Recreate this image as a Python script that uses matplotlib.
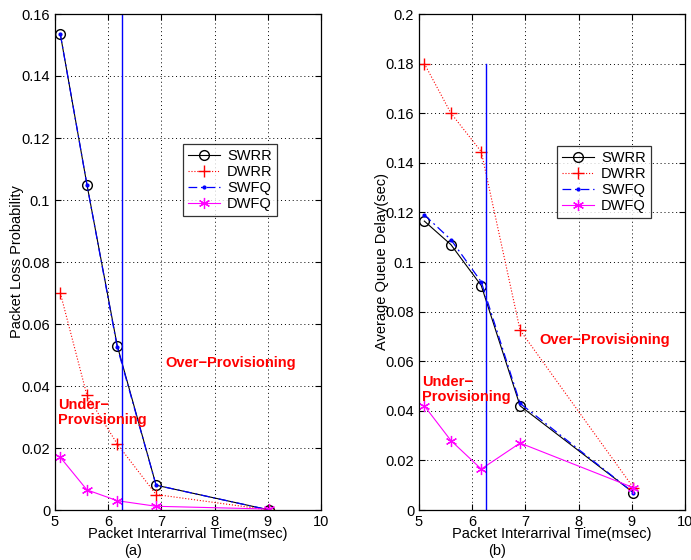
import matplotlib
matplotlib.use("Agg")
import matplotlib.pyplot as plt

plt.rcParams['font.family'] = ['Liberation Sans', 'DejaVu Sans']

x = [5.1, 5.6, 6.17, 6.9, 9.03]

# (a) Packet loss probability
loss_swrr = [0.1535, 0.105, 0.053, 0.008, 0.0]
loss_dwrr = [0.070, 0.037, 0.0213, 0.005, 0.0]
loss_swfq = [0.1535, 0.105, 0.0525, 0.008, 0.0]
loss_dwfq = [0.017, 0.0065, 0.003, 0.0012, 0.0003]

# (b) Average queue delay
delay_swrr = [0.1165, 0.107, 0.0905, 0.042, 0.007]
delay_dwrr = [0.180, 0.160, 0.1445, 0.0725, 0.009]
delay_swfq = [0.119, 0.109, 0.092, 0.043, 0.007]
delay_dwfq = [0.042, 0.028, 0.0165, 0.027, 0.009]

boundary_a = 6.26
boundary_b = 6.25

fig = plt.figure(figsize=(6.91, 5.6), dpi=100)
ax1 = fig.add_axes([55/691, 50/560, 266/691, 496/560])
ax2 = fig.add_axes([419/691, 50/560, 266/691, 496/560])

def draw(ax, sw, dw, sf, df, xb, ytop, yticks, ylabel, vline_top, ylab_x):
    ax.plot(x, sw, '-', color='black', marker='o', mfc='none', mec='black', ms=7, lw=0.8, label='SWRR')
    ax.plot(x, dw, ':', color='red', marker='+', ms=8, lw=0.8, label='DWRR')
    ax.plot(x, sf, color='blue', linestyle=(0, (7, 3, 1.5, 3)), marker='.', ms=4, lw=0.9, label='SWFQ')
    ax.plot(x, df, '-', color='magenta', marker=(6, 2, 0), ms=8, mew=0.9, lw=0.8, label='DWFQ')
    ax.plot([xb, xb], [0, vline_top], '-', color='blue', lw=1.0)
    ax.set_xlim(5, 10)
    ax.set_ylim(0, ytop)
    ax.set_xticks([5, 6, 7, 8, 9, 10])
    ax.set_yticks(yticks)
    ax.set_yticklabels([('%g' % v) for v in yticks])
    ax.grid(True, linestyle=(0, (1, 3)), color='black', lw=0.7)
    ax.tick_params(direction='in', top=True, right=True, labelsize=10.5, length=4)
    ax.set_xlabel('Packet Interarrival Time(msec)', fontsize=10.5, labelpad=-1)
    ax.set_ylabel(ylabel, fontsize=10.5)
    ax.yaxis.set_label_coords(ylab_x, 0.5)
    for s in ax.spines.values():
        s.set_linewidth(0.9)

draw(ax1, loss_swrr, loss_dwrr, loss_swfq, loss_dwfq, boundary_a, 0.16,
     [0, 0.02, 0.04, 0.06, 0.08, 0.1, 0.12, 0.14, 0.16], 'Packet Loss Probability', 0.16, -0.117)
draw(ax2, delay_swrr, delay_dwrr, delay_swfq, delay_dwfq, boundary_b, 0.2,
     [0, 0.02, 0.04, 0.06, 0.08, 0.1, 0.12, 0.14, 0.16, 0.18, 0.2], 'Average Queue Delay(sec)', 0.18, -0.113)

leg_kw = dict(fontsize=10.5, frameon=True, fancybox=False, edgecolor='black',
              handlelength=2.2, borderpad=0.3, labelspacing=0.15, handletextpad=0.5)
l1 = ax1.legend(loc='upper left', bbox_to_anchor=((176-55)/266, (510-137)/496), **leg_kw)
l2 = ax2.legend(loc='upper left', bbox_to_anchor=((550-419)/266, (510-139)/496), **leg_kw)
for l in (l1, l2):
    l.get_frame().set_linewidth(0.9)

tk = dict(color='red', fontweight='bold', fontsize=10.5)
ax1.text(7.08, 0.0475, 'Over\u2212Provisioning', va='center', ha='left', **tk)
ax1.text(5.05, 0.0315, 'Under\u2212\nProvisioning', va='center', ha='left', linespacing=1.1, **tk)
ax2.text(7.27, 0.0685, 'Over\u2212Provisioning', va='center', ha='left', **tk)
ax2.text(5.05, 0.0485, 'Under\u2212\nProvisioning', va='center', ha='left', linespacing=1.1, **tk)

fig.text(133/691, 1 - 551/560, '(a)', ha='center', va='center', fontsize=10.5)
fig.text(497/691, 1 - 551/560, '(b)', ha='center', va='center', fontsize=10.5)

fig.savefig('out.png', dpi=100)
